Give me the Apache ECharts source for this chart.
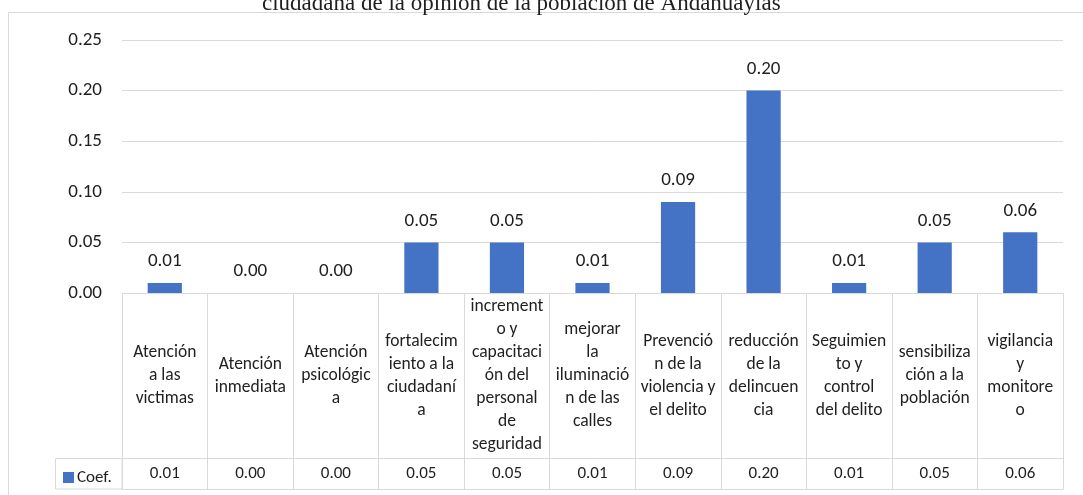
<!DOCTYPE html>
<html>
<head>
<meta charset="utf-8">
<script src="https://cdn.jsdelivr.net/npm/echarts@6/dist/echarts.min.js"></script>
<style>
  html, body { margin: 0; padding: 0; background: #fff; }
  #chart { width: 1083px; height: 495px; }
</style>
</head>
<body>
<div id="chart"></div>
<script>
// categories as they appear wrapped in the table cells
var categories = [
    'Atención\na las\nvictimas',
    'Atención\ninmediata',
    'Atención\npsicológic\na',
    'fortalecim\niento a la\nciudadaní\na',
    'increment\no y\ncapacitaci\nón del\npersonal\nde\nseguridad',
    'mejorar\nla\niluminació\nn de las\ncalles',
    'Prevenció\nn de la\nviolencia y\nel delito',
    'reducción\nde la\ndelincuen\ncia',
    'Seguimien\nto y\ncontrol\ndel delito',
    'sensibiliza\nción a la\npoblación',
    'vigilancia\ny\nmonitore\no'
];
var coef = [0.01, 0.00, 0.00, 0.05, 0.05, 0.01, 0.09, 0.20, 0.01, 0.05, 0.06];
var yTicks = [0, 0.05, 0.10, 0.15, 0.20, 0.25];
var titleText = 'ciudadana de la opinión de la población de Andahuaylas';

var font = 'Carlito, Lato, sans-serif';
var lineColor = '#d9d9d9';
var textColor = '#1f1f1f';

var mychart = echarts.init(document.getElementById('chart'));

mychart.setOption({
    animation: false,
    title: {
        text: titleText,
        left: 257,
        top: -13,
        textStyle: {
            fontFamily: 'Liberation Serif, serif',
            fontWeight: 'normal',
            fontSize: 23,
            color: textColor
        }
    },
    legend: {
        left: 58,
        top: 464,
        itemWidth: 11,
        itemHeight: 11,
        itemGap: 4,
        icon: 'rect',
        textStyle: { fontFamily: font, fontSize: 17, color: textColor, padding: [0, 0, 0, -2] },
        data: ['Coef.']
    },
    grid: { left: 122, right: 20, top: 40, bottom: 202, containLabel: false },
    xAxis: [{
        type: 'category',
        data: categories,
        position: 'bottom',
        axisLine: { show: true, lineStyle: { color: lineColor, width: 1 } },
        axisTick: { show: true, interval: 0, length: 196, alignWithLabel: false, lineStyle: { color: lineColor } },
        axisLabel: {
            interval: 0,
            margin: 83,
            verticalAlign: 'middle',
            lineHeight: 23,
            fontFamily: font,
            fontSize: 17.5,
            color: textColor
        }
    }, {
        // value row of the data table
        type: 'category',
        data: categories,
        position: 'bottom',
        offset: 165,
        axisLine: { show: true, lineStyle: { color: lineColor, width: 1 } },
        axisTick: { show: false },
        axisLabel: {
            interval: 0,
            margin: 16,
            verticalAlign: 'middle',
            fontFamily: font,
            fontSize: 17,
            color: textColor,
            formatter: function (v, i) { return coef[i].toFixed(2); }
        }
    }, {
        type: 'category',
        data: categories,
        position: 'bottom',
        offset: 196,
        axisLine: { show: true, lineStyle: { color: lineColor, width: 1 } },
        axisTick: { show: false },
        axisLabel: { show: false }
    }],
    yAxis: {
        type: 'value',
        min: yTicks[0],
        max: yTicks[yTicks.length - 1],
        interval: 0.05,
        axisLine: { show: false },
        axisTick: { show: false },
        splitLine: { lineStyle: { color: lineColor, width: 1 } },
        axisLabel: {
            margin: 20,
            fontFamily: font,
            fontSize: 19,
            color: textColor,
            formatter: function (v) { return v.toFixed(2); }
        }
    },
    series: [{
        name: 'Coef.',
        type: 'bar',
        data: coef,
        barWidth: '40%',
        itemStyle: { color: '#4472C4' },
        label: {
            show: true,
            position: 'top',
            distance: 12,
            fontFamily: font,
            fontSize: 19,
            color: textColor,
            formatter: function (p) { return p.value.toFixed(2); }
        }
    }],
    graphic: [{
        // chart frame
        type: 'rect',
        shape: { x: 8.5, y: 12.5, width: 1100, height: 520 },
        style: { fill: null, stroke: lineColor, lineWidth: 1 },
        silent: true
    }, {
        // legend cell of the data table
        type: 'rect',
        shape: { x: 55.5, y: 458.5, width: 66.5, height: 30.5 },
        style: { fill: null, stroke: lineColor, lineWidth: 1 },
        silent: true
    }]
});
</script>
</body>
</html>
